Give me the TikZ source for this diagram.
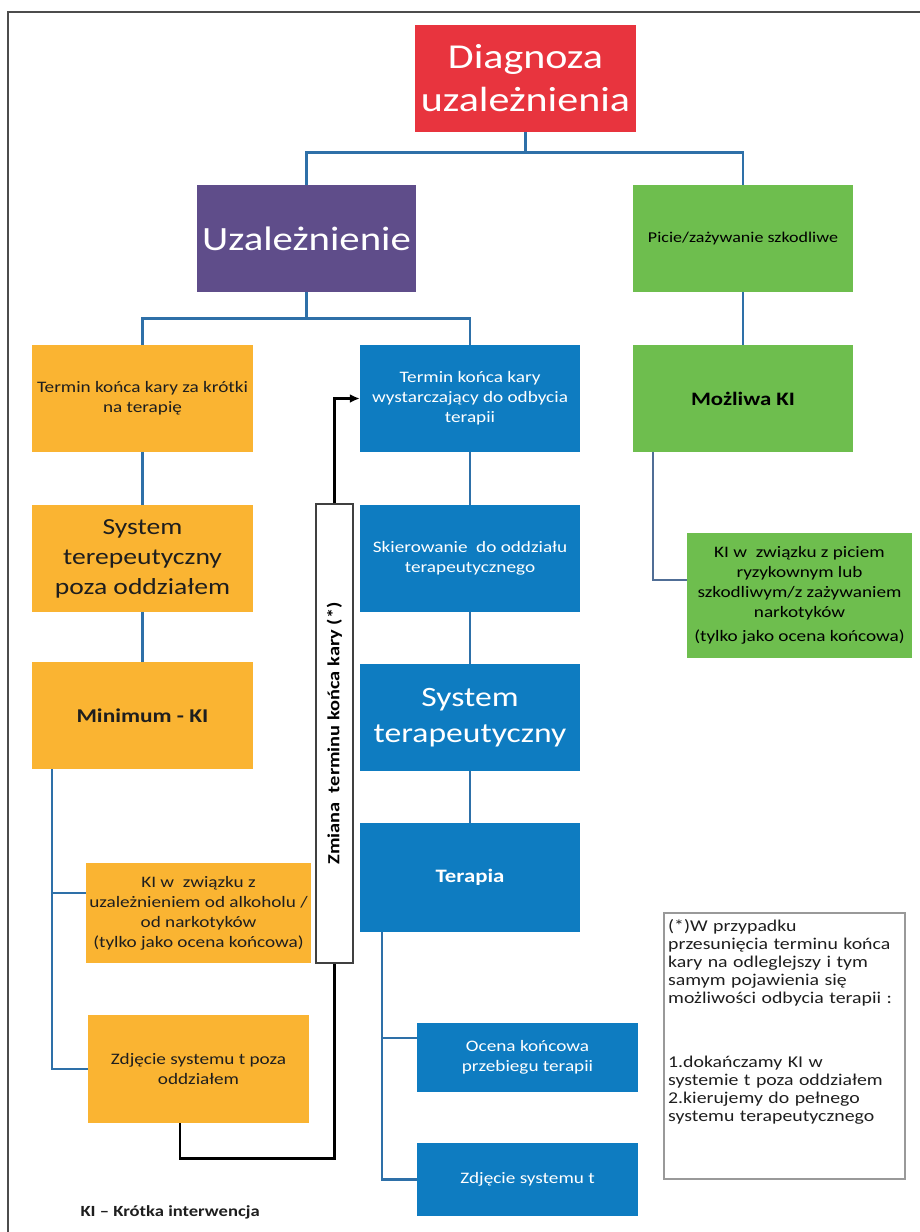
\documentclass[tikz,border=0pt]{standalone}
\usepackage{fontspec}
\setmainfont{Carlito}[FakeStretch=1.2]
\usetikzlibrary{arrows.meta,calc}
\definecolor{cred}{RGB}{232,52,62}
\definecolor{cpurple}{RGB}{95,77,138}
\definecolor{cgreen}{RGB}{110,190,78}
\definecolor{corange}{RGB}{250,180,50}
\definecolor{cblue}{RGB}{14,124,193}
\definecolor{cline}{RGB}{46,112,168}
\definecolor{cgline}{RGB}{80,110,150}
\definecolor{ctext}{RGB}{30,30,30}
\begin{document}
\begin{tikzpicture}[x=1pt,y=-1pt,
  bx/.style={rectangle, inner sep=3pt, align=center, minimum width=221pt},
  small/.style={font=\fontsize{16}{20}\selectfont},
  conn/.style={draw=cline, line width=2.8pt},
  blk/.style={draw=black, line width=2.8pt},
]
\fill[white] (0,0) rectangle (920,1232);
\useasboundingbox (0,0) rectangle (920,1232);
\draw[gray!60!black, line width=1.5pt] (8,1232) -- (8,12) -- (920,12);

% top level
\node[bx, fill=cred, text=white, minimum height=107pt, font=\fontsize{35}{43}\selectfont] (diag) at (525.5,78.5) {Diagnoza\\uzależnienia};
\node[bx, fill=cpurple, text=white, minimum width=219pt, minimum height=107pt, font=\fontsize{34}{40}\selectfont] (uzal) at (306.5,238.5) {Uzależnienie};
\node[bx, fill=cgreen, text=black, minimum width=220pt, minimum height=107pt, font=\fontsize{15}{19}\selectfont] (picie) at (743,238.5) {Picie/zażywanie szkodliwe};

% second level
\node[bx, fill=corange, text=ctext, minimum height=107pt, small] (tkrot) at (142.5,398.5) {Termin końca kary za krótki\\na terapię};
\node[bx, fill=cblue, text=white, minimum width=220pt, minimum height=107pt, small] (twyst) at (470,398.5) {Termin końca kary\\wystarczający do odbycia\\terapii};
\node[bx, fill=cgreen, text=black, minimum width=220pt, minimum height=107pt, font=\bfseries\fontsize{19}{23}\selectfont] (mozl) at (743,398.5) {Możliwa KI};

% orange column
\node[bx, fill=corange, text=ctext, minimum height=107pt, font=\fontsize{23}{30}\selectfont] (sysp) at (142.5,558.5) {System\\terepeutyczny\\poza oddziałem};
\node[bx, fill=corange, text=ctext, minimum height=107pt, font=\bfseries\fontsize{19.5}{23}\selectfont] (mini) at (142.5,715.5) {Minimum - KI};
\node[bx, fill=corange, text=ctext, minimum height=100pt, small] (kiuz) at (198.5,913) {KI w\ \ związku z\\uzależnieniem od alkoholu /\\od narkotyków\\(tylko jako ocena końcowa)};
\node[bx, fill=corange, text=ctext, minimum height=108pt, small] (zdj1) at (198.5,1069) {Zdjęcie systemu t poza\\oddziałem};

% blue column
\node[bx, fill=cblue, text=white, minimum width=220pt, minimum height=107pt, small] (skier) at (470,558.5) {Skierowanie\ \ do oddziału\\terapeutycznego};
\node[bx, fill=cblue, text=white, minimum width=220pt, minimum height=107pt, font=\fontsize{28}{36}\selectfont] (systt) at (470,717.5) {System\\terapeutyczny};
\node[bx, fill=cblue, text=white, minimum width=220pt, minimum height=109pt, font=\bfseries\fontsize{19}{23}\selectfont] (terapia) at (470,877.5) {Terapia};
\node[bx, fill=cblue, text=white, minimum height=69pt, small] (ocena) at (527.5,1057.5) {Ocena końcowa\\przebiegu terapii};
\node[bx, fill=cblue, text=white, minimum height=73pt, small] (zdj2) at (527.5,1179.5) {Zdjęcie systemu t};

% green branch
\node[bx, fill=cgreen, text=black, minimum width=225pt, minimum height=125pt, font=\fontsize{16}{20}\selectfont] (kipic) at (799.5,595.5) {KI w\ \ związku z piciem\\ryzykownym lub\\szkodliwym/z zażywaniem\\narkotyków\\[4pt](tylko jako ocena końcowa)};

% change box
\node[rectangle, rotate=90, draw=gray!50!black, line width=1.3pt, fill=white, minimum width=459pt, minimum height=37pt, inner sep=0pt, font=\bfseries\fontsize{17}{20}\selectfont] (zmiana) at (334.5,733.5) {Zmiana\ \ terminu końca kary (*)};

% note
\node[rectangle, draw=gray!80, line width=1.5pt, minimum width=241pt, minimum height=266pt, anchor=north west] (note) at (663,912) {};
\node[anchor=north west, text width=234pt, align=left, inner sep=0pt, font=\fontsize{16.5}{18}\selectfont, text=ctext] (notetext) at (668,919) {(*)W przypadku\\przesunięcia terminu końca\\kary na odleglejszy i tym\\samym pojawienia się\\możliwości odbycia terapii :\\[46pt]1.dokańczamy KI w\\systemie t poza oddziałem\\2.kierujemy do pełnego\\systemu terapeutycznego};

% legend
\node[font=\bfseries\fontsize{15.5}{18}\selectfont, text=ctext, anchor=west] (legend) at (77,1212) {KI – Krótka interwencja};

% connectors
\draw[conn] (diag.south) -- ++(0,20) -| (uzal.north);
\draw[conn] (diag.south) -- ++(0,20) -| (picie.north);
\draw[conn] (uzal.south) -- ++(0,26) -| (tkrot.north);
\draw[conn] (uzal.south) -- ++(0,26) -| (twyst.north);
\draw[conn] (picie.south) -- (mozl.north);
\draw[conn] (tkrot.south) -- (sysp.north);
\draw[conn] (sysp.south) -- (mini.north);
\draw[conn] (twyst.south) -- (skier.north);
\draw[conn] (skier.south) -- (systt.north);
\draw[conn] (systt.south) -- (terapia.north);

\coordinate (m0) at (52,769);
\coordinate (kb) at ([yshift=20pt]kiuz.west);
\draw[conn] (m0) |- (zdj1.west);
\draw[conn] (kb -| m0) -- (kb);

\coordinate (t0) at (382,932);
\coordinate (ob) at ([yshift=19.5pt]ocena.west);
\draw[conn] (t0) |- (zdj2.west);
\draw[conn] (ob -| t0) -- (ob);

\coordinate (g0) at (653,452);
\draw[draw=cgline, line width=2.8pt] (g0) |- ([yshift=15.5pt]kipic.west);

\draw[blk] ([xshift=-18.5pt]zdj1.south) -- ++(0,35) -| (zmiana.west);
\draw[blk, -{Latex[length=10pt,width=9pt]}] (zmiana.east) |- (twyst.west);
\end{tikzpicture}
\end{document}
